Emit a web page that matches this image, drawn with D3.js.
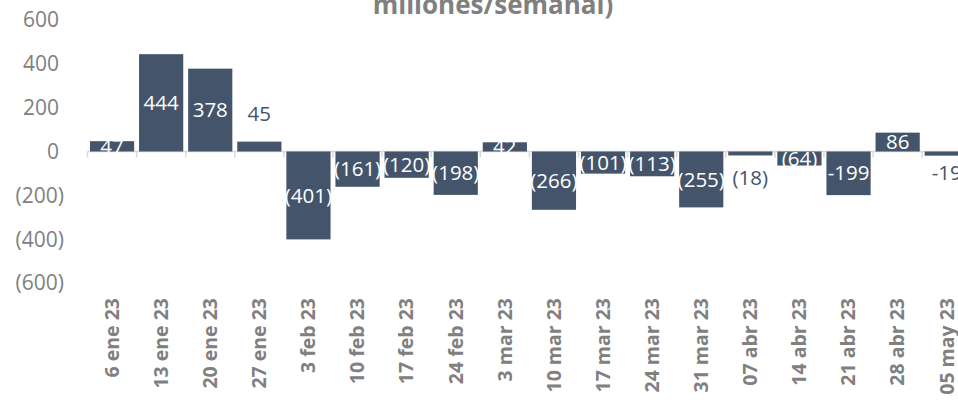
<!DOCTYPE html>
<html>
<head>
<meta charset="utf-8">
<script src="https://cdn.jsdelivr.net/npm/d3@7"></script>
<style>
  body { margin: 0; background: #fff; }
  svg { display: block; font-family: "Open Sans", sans-serif; }
</style>
</head>
<body>
<script>
// weekly flows, millions
var weeks = ["6 ene 23", "13 ene 23", "20 ene 23", "27 ene 23", "3 feb 23", "10 feb 23",
  "17 feb 23", "24 feb 23", "3 mar 23", "10 mar 23", "17 mar 23", "24 mar 23",
  "31 mar 23", "07 abr 23", "14 abr 23", "21 abr 23", "28 abr 23", "05 may 23"];
var flows = [47, 444, 378, 45, -401, -161, -120, -198, 42, -266, -101, -113, -255, -18, -64, -199, 86, -19];
var flowLabels = ["47", "444", "378", "45", "(401)", "(161)", "(120)", "(198)", "42", "(266)",
  "(101)", "(113)", "(255)", "(18)", "(64)", "-199", "86", "-19"];
// labels that were dragged off their bar (value where the label sits)
var movedLabels = { "27 ene 23": 171, "07 abr 23": -120, "05 may 23": -98 };
var yTicks = [600, 400, 200, 0, -200, -400, -600];
var titleText = "millones/semanal)";

var W = 958, H = 400;
var barColor = "#44546a", greyText = "#808080";

var svg = d3.select("body").append("svg")
    .attr("width", W)
    .attr("height", H);

var step = 49.1, x0 = 87.5;
var x = d3.scaleBand()
    .domain(weeks)
    .range([x0, x0 + step * weeks.length])
    .paddingInner(0.1)
    .paddingOuter(0.05);

var y = d3.scaleLinear()
    .domain([-600, 600])
    .range([283, 20]);

// title (first line falls outside the picture)
svg.append("text")
    .attr("x", 493)
    .attr("y", 13.5)
    .attr("text-anchor", "middle")
    .attr("fill", greyText)
    .style("font-weight", "bold")
    .style("font-size", "26px")
    .text(titleText);

// y axis labels, accounting style: positives leave room for ")"
svg.append("g").selectAll("text")
    .data(yTicks)
    .enter().append("text")
    .attr("x", function (d) { return d < 0 ? 64 : 59; })
    .attr("y", function (d) { return y(d); })
    .attr("dy", "0.35em")
    .attr("text-anchor", "end")
    .attr("fill", greyText)
    .style("font-size", "21px")
    .text(function (d) { return d < 0 ? "(" + d3.format(",")(-d) + ")" : d3.format(",")(d); });

// category axis line and tick marks at band boundaries
var axisG = svg.append("g");
axisG.append("line")
    .attr("x1", x0).attr("x2", W)
    .attr("y1", y(0)).attr("y2", y(0))
    .attr("stroke", "#d9d9d9")
    .attr("stroke-width", 1.5);
axisG.selectAll(".tick")
    .data(d3.range(weeks.length + 1))
    .enter().append("line")
    .attr("class", "tick")
    .attr("x1", function (i) { return x0 + i * x.step(); })
    .attr("x2", function (i) { return x0 + i * x.step(); })
    .attr("y1", y(0))
    .attr("y2", y(0) + 6)
    .attr("stroke", "#d9d9d9")
    .attr("stroke-width", 1.5);

// bars
svg.append("g").selectAll("rect")
    .data(flows)
    .enter().append("rect")
    .attr("x", function (d, i) { return x(weeks[i]); })
    .attr("y", function (d) { return y(Math.max(0, d)); })
    .attr("width", x.bandwidth())
    .attr("height", function (d) { return Math.abs(y(d) - y(0)); })
    .attr("fill", barColor);

// data labels
svg.append("g").selectAll("text")
    .data(flows)
    .enter().append("text")
    .attr("x", function (d, i) { return x(weeks[i]) + x.bandwidth() / 2; })
    .attr("y", function (d, i) {
        var m = movedLabels[weeks[i]];
        return m !== undefined ? y(m) : y(d / 2);
    })
    .attr("dy", "0.35em")
    .attr("text-anchor", "middle")
    .attr("fill", function (d, i) { return movedLabels[weeks[i]] !== undefined ? barColor : "#fff"; })
    .style("font-size", "20.5px")
    .text(function (d, i) { return flowLabels[i]; });

// rotated week labels
svg.append("g").selectAll("text")
    .data(weeks)
    .enter().append("text")
    .attr("transform", function (d) {
        return "translate(" + (x(d) + x.bandwidth() / 2) + ",298) rotate(-90)";
    })
    .attr("dy", "0.35em")
    .attr("text-anchor", "end")
    .attr("fill", greyText)
    .style("font-weight", "bold")
    .style("font-size", "19.5px")
    .text(function (d) { return d; });
</script>
</body>
</html>
